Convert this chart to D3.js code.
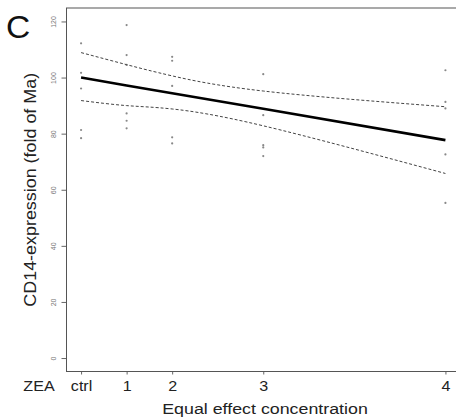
<!DOCTYPE html>
<html>
<head>
<meta charset="utf-8">
<script src="https://cdn.jsdelivr.net/npm/d3@7"></script>
<style>
  body { margin: 0; background: #fff; }
  svg { display: block; font-family: "Liberation Sans", Arial, sans-serif; }
</style>
</head>
<body>
<div id="viz"></div>
<script>
// page size
const width = 456
const height = 420

// x positions of the concentrations (relative dose) and their labels
const doses = [0, 0.125, 0.25, 0.5, 1];
const doseLabels = ["ctrl", "1", "2", "3", "4"];

const ptsCtrl = [112.2, 101.7, 96.1, 81.3, 78.4];
const pts1 = [118.7, 108.0, 104.5, 87.2, 84.6, 81.9];
const pts2 = [107.4, 106.0, 97.0, 78.7, 76.5];
const pts3 = [101.2, 86.6, 75.9, 75.1, 72.0];
const pts4 = [102.6, 91.3, 89.0, 72.6, 55.3];

// regression line and confidence band at each dose
const fitVals = [100.0, 97.2, 94.4, 88.9, 77.7];
const upperVals = [108.9, 104.6, 100.6, 95.2, 89.6];
const lowerVals = [91.8, 90.0, 88.8, 82.8, 65.8];

// y ticks
const yTicks = [0, 20, 40, 60, 80, 100, 120];

// plot box
const box = {left: 66.5, top: 8, right: 460, bottom: 371.5};

// the original text is a bit wider than Liberation Sans
const stretch = 1.15;

const svg = d3.select("#viz")
    .append("svg")
    .attr("width", width)
    .attr("height", height);

// scales (R style 4% padding)
const x = d3.scaleLinear().domain([-0.04, 1.04]).range([box.left, box.right]);
const y = d3.scaleLinear().domain([-4.8, 124.8]).range([box.bottom, box.top]);

// panel letter
svg.append("text")
    .attr("transform", "translate(6,38) scale(1.05,1)")
    .attr("font-size", 32)
    .attr("fill", "#111")
    .text("C");

// y axis
const yAxis = svg.append("g")
    .attr("transform", "translate(" + box.left + ",0)")
    .call(d3.axisLeft(y).tickValues(yTicks).tickSize(5));
yAxis.select(".domain").remove();
yAxis.selectAll("line").attr("stroke", "#666");
yAxis.selectAll("text")
    .attr("font-size", 7)
    .attr("fill", "#777")
    .attr("text-anchor", "middle")
    .attr("x", 0)
    .attr("y", 0)
    .attr("dy", "0.35em")
    .attr("transform", "translate(-13,0) rotate(-90)");

// x axis
const xAxis = svg.append("g")
    .attr("transform", "translate(0," + box.bottom + ")")
    .call(d3.axisBottom(x).tickValues(doses).tickSize(3)
        .tickFormat(function(d, i) { return doseLabels[i]; }));
xAxis.select(".domain").remove();
xAxis.selectAll("line").attr("stroke", "#666");
xAxis.selectAll("text")
    .attr("font-size", 14)
    .attr("fill", "#222")
    .attr("y", 0)
    .attr("dy", 0)
    .attr("transform", "translate(0,19) scale(" + stretch + ",1)");

// "ZEA" in front of the x labels
svg.append("text")
    .attr("transform", "translate(39," + (box.bottom + 19) + ") scale(" + stretch + ",1)")
    .attr("text-anchor", "middle")
    .attr("font-size", 14)
    .attr("fill", "#222")
    .text("ZEA");

// box around plot
svg.append("rect")
    .attr("x", box.left)
    .attr("y", box.top)
    .attr("width", box.right - box.left)
    .attr("height", box.bottom - box.top)
    .attr("fill", "none")
    .attr("stroke", "#555")
    .attr("stroke-width", 1);

// axis titles
svg.append("text")
    .attr("transform", "translate(265,414) scale(" + stretch + ",1)")
    .attr("text-anchor", "middle")
    .attr("font-size", 15.5)
    .attr("fill", "#222")
    .text("Equal effect concentration");

svg.append("text")
    .attr("transform", "translate(36," + ((box.top + box.bottom) / 2) + ") rotate(-90) scale(1.12,1)")
    .attr("text-anchor", "middle")
    .attr("font-size", 16)
    .attr("fill", "#222")
    .text("CD14-expression (fold of Ma)");

// points
const groups = [ptsCtrl, pts1, pts2, pts3, pts4];
const points = [];
groups.forEach(function(g, i) {
    g.forEach(function(v) { points.push({dose: doses[i], val: v}); });
});
svg.append("g")
    .selectAll("circle")
    .data(points)
    .enter()
    .append("circle")
    .attr("cx", function(d) { return x(d.dose); })
    .attr("cy", function(d) { return y(d.val); })
    .attr("r", 1.1)
    .attr("fill", "#888");

// confidence band (dashed)
const band = d3.line()
    .x(function(d, i) { return x(doses[i]); })
    .y(function(d) { return y(d); })
    .curve(d3.curveNatural);

[upperVals, lowerVals].forEach(function(vals) {
    svg.append("path")
        .datum(vals)
        .attr("d", band)
        .attr("fill", "none")
        .attr("stroke", "#444")
        .attr("stroke-width", 1)
        .attr("stroke-dasharray", "3,2");
});

// regression line
svg.append("path")
    .datum(fitVals)
    .attr("d", d3.line()
        .x(function(d, i) { return x(doses[i]); })
        .y(function(d) { return y(d); }))
    .attr("fill", "none")
    .attr("stroke", "#000")
    .attr("stroke-width", 2.6);
</script>
</body>
</html>
